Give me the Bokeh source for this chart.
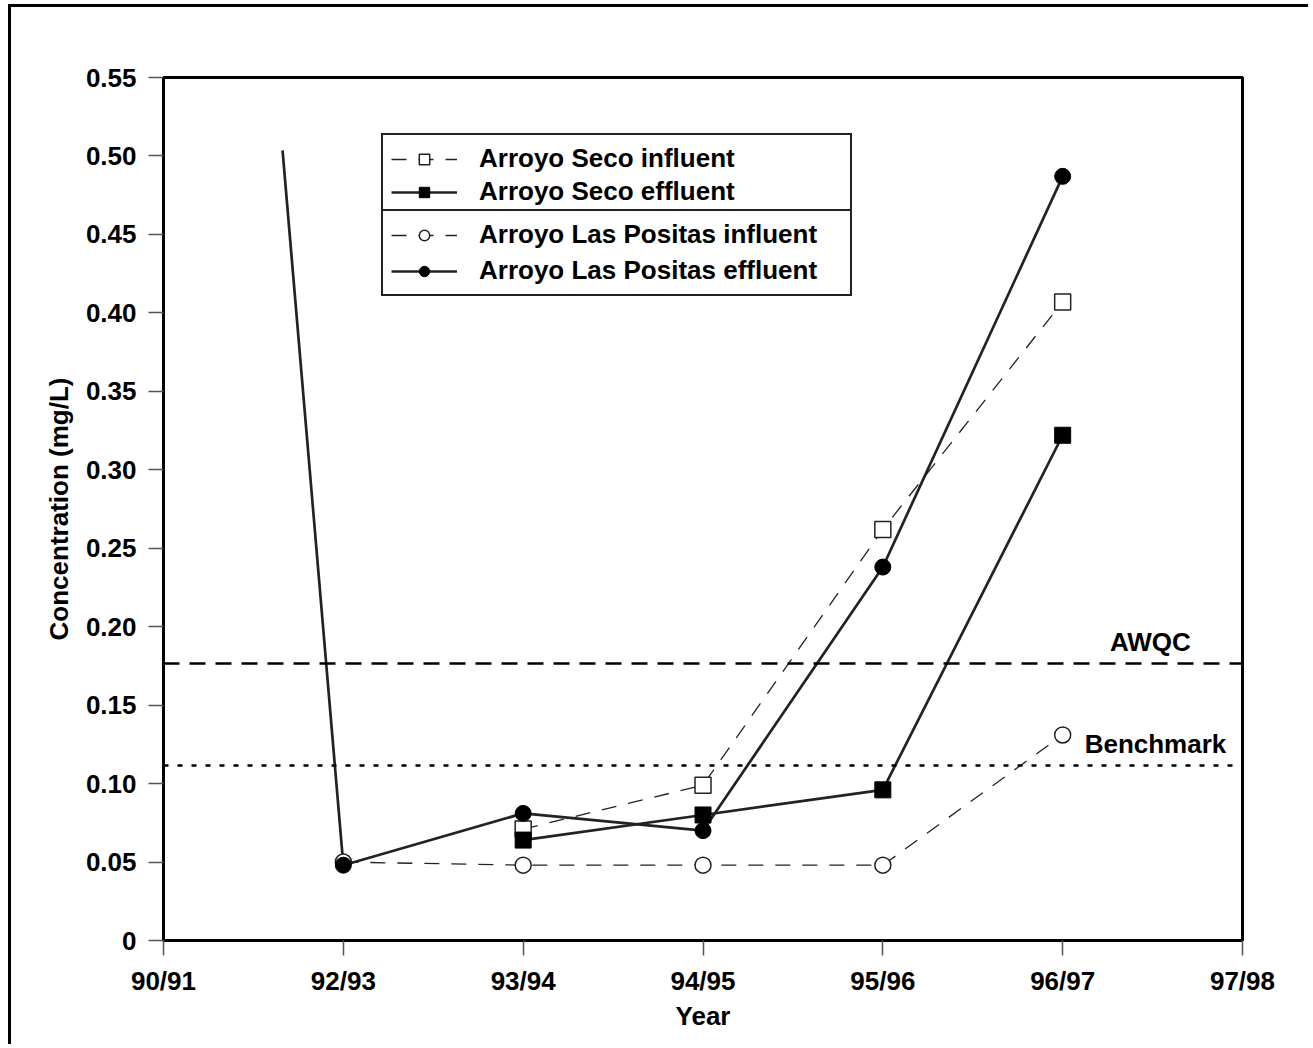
from bokeh.plotting import figure
from bokeh.models import FixedTicker, Legend, LegendItem, Span, Label
from bokeh.embed import file_html
from bokeh.resources import INLINE

# ---------------- data ----------------
years = ["90/91", "92/93", "93/94", "94/95", "95/96", "96/97", "97/98"]
year_pos = [0, 1, 2, 3, 4, 5, 6]

as_inf_x = [2, 3, 4, 5]
as_inf_y = [0.071, 0.099, 0.262, 0.407]

as_eff_x = [2, 3, 4, 5]
as_eff_y = [0.064, 0.080, 0.096, 0.322]

alp_inf_x = [1, 2, 3, 4, 5]
alp_inf_y = [0.050, 0.048, 0.048, 0.048, 0.131]

alp_eff_x = [1, 2, 3, 4, 5]
alp_eff_y = [0.048, 0.081, 0.070, 0.238, 0.487]
# line that enters from the left before the first marker
alp_eff_lead_x = [0.662]
alp_eff_lead_y = [0.5035]

awqc = 0.1765
benchmark = 0.1115

y_ticks = [0, 0.05, 0.10, 0.15, 0.20, 0.25, 0.30, 0.35, 0.40, 0.45, 0.50, 0.55]
y_tick_labels = ["0", "0.05", "0.10", "0.15", "0.20", "0.25", "0.30",
                 "0.35", "0.40", "0.45", "0.50", "0.55"]

# ---------------- figure ----------------
FONT = "Liberation Sans"
FS = "26px"
INK = "#222222"

p = figure(width=1300, height=1040, x_range=(0, 6), y_range=(0, 0.55),
           output_backend="svg", toolbar_location=None,
           min_border_left=152, min_border_right=69,
           min_border_top=70, min_border_bottom=107)
p.styles = {"margin-left": "8px", "margin-top": "4px",
            "border-left": "3px solid black", "border-top": "3px solid black"}

p.xgrid.visible = False
p.ygrid.visible = False
p.outline_line_color = "black"
p.outline_line_width = 3
p.background_fill_color = "white"
p.border_fill_color = "white"

for ax in (p.xaxis[0], p.yaxis[0]):
    ax.axis_line_color = "black"
    ax.axis_line_width = 3
    ax.major_tick_in = 0
    ax.major_tick_out = 15
    ax.major_tick_line_color = "#555555"
    ax.major_tick_line_width = 1.5
    ax.minor_tick_line_color = None
    ax.major_label_text_font = FONT
    ax.major_label_text_font_style = "bold"
    ax.major_label_text_font_size = FS
    ax.major_label_text_color = "black"
    ax.axis_label_text_font = FONT
    ax.axis_label_text_font_style = "bold"
    ax.axis_label_text_font_size = FS
    ax.axis_label_text_color = "black"

p.xaxis.ticker = FixedTicker(ticks=year_pos)
p.xaxis.major_label_overrides = {pos: lab for pos, lab in zip(year_pos, years)}
p.xaxis.major_label_standoff = 10
p.xaxis.axis_label = "Year"
p.xaxis.axis_label_standoff = 2

p.yaxis.ticker = FixedTicker(ticks=y_ticks)
p.yaxis.major_label_overrides = {t: lab for t, lab in zip(y_ticks, y_tick_labels)}
p.yaxis.major_label_standoff = 12
p.yaxis.axis_label = "Concentration (mg/L)"
p.yaxis.axis_label_standoff = 9

# ---------------- reference lines ----------------
p.add_layout(Span(location=awqc, dimension="width", line_color="black",
                  line_width=2.5, line_dash="16 10"))
p.add_layout(Span(location=benchmark, dimension="width", line_color="black",
                  line_width=2.5, line_dash="5 9"))
p.add_layout(Label(x=5.488, y=awqc, y_offset=22, text="AWQC", text_align="center",
                   text_baseline="alphabetic", text_font=FONT, text_font_style="bold",
                   text_font_size=FS, text_color="black"))
p.add_layout(Label(x=5.516, y=benchmark, y_offset=22, text="Benchmark", text_align="center",
                   text_baseline="alphabetic", text_font=FONT, text_font_style="bold",
                   text_font_size=FS, text_color="black"))

# ---------------- series ----------------
DASH = "15 12"
l_alp_inf = p.line(alp_inf_x, alp_inf_y, line_color=INK, line_width=1.3, line_dash=DASH)
l_as_inf = p.line(as_inf_x, as_inf_y, line_color=INK, line_width=1.3, line_dash=DASH)
l_as_eff = p.line(as_eff_x, as_eff_y, line_color=INK, line_width=2.7)
l_alp_eff = p.line(alp_eff_lead_x + alp_eff_x, alp_eff_lead_y + alp_eff_y,
                   line_color=INK, line_width=2.7)

m_alp_inf = p.scatter(alp_inf_x, alp_inf_y, marker="circle", size=16,
                      fill_color="white", line_color=INK, line_width=1.5)
m_as_inf = p.scatter(as_inf_x, as_inf_y, marker="square", size=16,
                     fill_color="white", line_color=INK, line_width=1.5)
m_as_eff = p.scatter(as_eff_x, as_eff_y, marker="square", size=16,
                     fill_color="black", line_color="black", line_width=1)
m_alp_eff = p.scatter(alp_eff_x, alp_eff_y, marker="circle", size=16,
                      fill_color="black", line_color="black", line_width=1)

# ---------------- legends (two stacked boxes) ----------------
def make_legend(items, loc, spacing):
    lg = Legend(items=items, location=loc, orientation="vertical",
                border_line_color="#222222", border_line_width=2, border_line_alpha=1.0,
                background_fill_color="white", background_fill_alpha=1.0,
                padding=8, spacing=spacing, margin=0,
                glyph_width=66, glyph_height=26, label_height=26,
                label_width=363, label_standoff=22,
                label_text_font=FONT, label_text_font_style="bold",
                label_text_font_size=FS, label_text_color="black")
    return lg

leg1 = make_legend([
    LegendItem(label="Arroyo Seco influent", renderers=[l_as_inf, m_as_inf]),
    LegendItem(label="Arroyo Seco effluent", renderers=[l_as_eff, m_as_eff]),
], (218, 723), 2)
leg2 = make_legend([
    LegendItem(label="Arroyo Las Positas influent", renderers=[l_alp_inf, m_alp_inf]),
    LegendItem(label="Arroyo Las Positas effluent", renderers=[l_alp_eff, m_alp_eff]),
], (218, 644), 5)
p.add_layout(leg1)
p.add_layout(leg2)

open("out.html", "w").write(file_html(p, INLINE))
